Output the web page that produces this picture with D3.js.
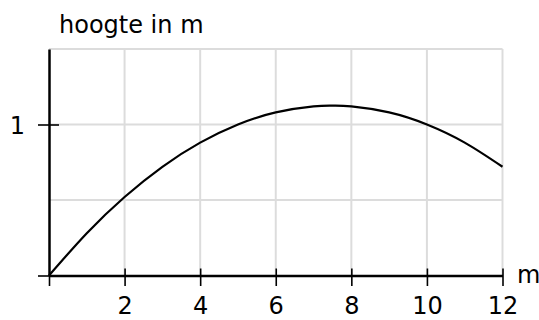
<!DOCTYPE html>
<html>
<head>
<meta charset="utf-8">
<script src="https://cdn.jsdelivr.net/npm/d3@7"></script>
<style>
  body { margin: 0; background: #fff; }
  text { font-family: "DejaVu Sans", sans-serif; fill: #000; }
</style>
</head>
<body>
<div id="chart"></div>
<script>
// afstand in m en hoogte in m
var afstand = [0, 1, 2, 3, 4, 5, 6, 7, 7.5, 8, 9, 10, 11, 12]
var hoogte = [0, 0.28, 0.52, 0.72, 0.88, 1.0, 1.08, 1.12, 1.125, 1.12, 1.08, 1.0, 0.88, 0.72]
var xTicks = [2, 4, 6, 8, 10, 12]
var yTicks = [1]
var xGrid = [2, 4, 6, 8, 10, 12]
var yGrid = [0.5, 1, 1.5]

var width = 539
var height = 320

var x = d3.scaleLinear().domain([0, 12]).range([49, 502.5])
var y = d3.scaleLinear().domain([0, 1.5]).range([275.5, 49])

var svg = d3.select('#chart')
  .append('svg')
  .attr('width', width)
  .attr('height', height)

// rasterlijnen
svg.append('g')
  .selectAll('line')
  .data(xGrid)
  .enter()
  .append('line')
  .attr('x1', (d) => x(d))
  .attr('x2', (d) => x(d))
  .attr('y1', y(0))
  .attr('y2', y(1.5))
  .attr('stroke', '#dcdcdc')
  .attr('stroke-width', 2)

svg.append('g')
  .selectAll('line')
  .data(yGrid)
  .enter()
  .append('line')
  .attr('x1', x(0))
  .attr('x2', x(12))
  .attr('y1', (d) => y(d))
  .attr('y2', (d) => y(d))
  .attr('stroke', '#dcdcdc')
  .attr('stroke-width', 2)

// assen
var xAxis = d3.axisBottom(x)
  .tickValues([0].concat(xTicks))
  .tickSize(0)
  .tickFormat((d) => d === 0 ? '' : d)
var gx = svg.append('g')
  .attr('transform', 'translate(0,' + y(0) + ')')
  .call(xAxis)
gx.select('.domain')
  .attr('stroke', '#000')
  .attr('stroke-width', 2.5)
gx.selectAll('.tick line')
  .attr('y1', (d) => d === 0 ? 0 : -7)
  .attr('y2', 10.5)
  .attr('stroke', '#000')
  .attr('stroke-width', 1.6)
gx.selectAll('.tick text')
  .attr('y', 38)
  .attr('dy', 0)
  .style('font-size', '24px')
  .style('font-family', '"DejaVu Sans", sans-serif')

var yAxis = d3.axisLeft(y)
  .tickValues([0].concat(yTicks))
  .tickSize(0)
  .tickFormat((d) => d === 0 ? '' : d)
var gy = svg.append('g')
  .attr('transform', 'translate(' + x(0) + ',0)')
  .call(yAxis)
gy.select('.domain')
  .attr('stroke', '#000')
  .attr('stroke-width', 2.5)
gy.selectAll('.tick line')
  .attr('x1', -11)
  .attr('x2', (d) => d === 0 ? 0 : 10)
  .attr('stroke', '#000')
  .attr('stroke-width', 1.6)
gy.selectAll('.tick text')
  .attr('x', -24)
  .attr('dy', '0.36em')
  .style('font-size', '24px')
  .style('font-family', '"DejaVu Sans", sans-serif')

// kromme
var line = d3.line()
  .x((d, i) => x(afstand[i]))
  .y((d) => y(d))
  .curve(d3.curveNatural)

svg.append('path')
  .datum(hoogte)
  .attr('d', line)
  .attr('fill', 'none')
  .attr('stroke', '#000')
  .attr('stroke-width', 2.2)

// aslabels
svg.append('text')
  .attr('x', 59)
  .attr('y', 33)
  .style('font-size', '24px')
  .text('hoogte in m')

svg.append('text')
  .attr('x', 517)
  .attr('y', 283)
  .style('font-size', '24px')
  .text('m')
</script>
</body>
</html>
